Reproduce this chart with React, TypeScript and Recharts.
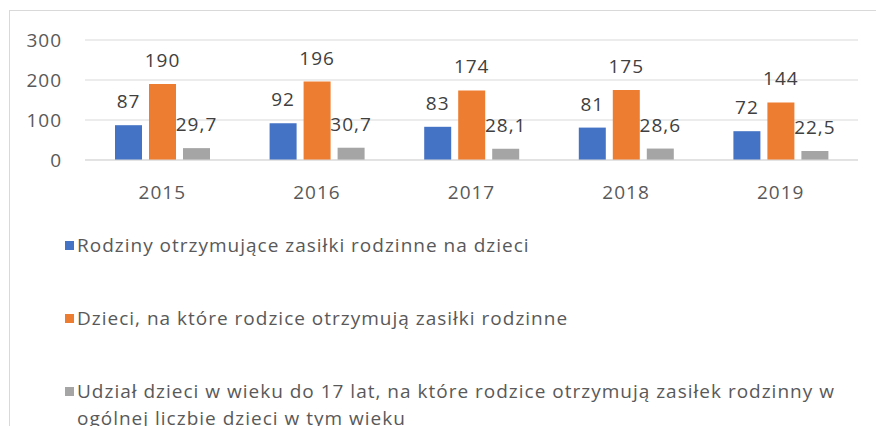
import { Bar, BarChart, CartesianGrid, LabelList, Legend, XAxis, YAxis } from 'recharts';

const years = ['2015', '2016', '2017', '2018', '2019'];
const families = [87, 92, 83, 81, 72];
const children = [190, 196, 174, 175, 144];
const share = [29.7, 30.7, 28.1, 28.6, 22.5];
const seriesNames = [
    'Rodziny otrzymujące zasiłki rodzinne na dzieci',
    'Dzieci, na które rodzice otrzymują zasiłki rodzinne',
    'Udział dzieci w wieku do 17 lat, na które rodzice otrzymują zasiłek rodzinny w ogólnej liczbie dzieci w tym wieku',
];
const colors = ['#4472C4', '#ED7D31', '#A5A5A5'];
const yTicks = [0, 100, 200, 300];

const data = years.map((year, i) => ({
    year,
    families: families[i],
    children: children[i],
    share: share[i],
}));

const FONT = '"Open Sans", sans-serif';
const fmt = (v: any) => String(v).replace('.', ',');

const LegendList = () => (
    <div style={{ fontFamily: FONT, fontSize: 19, color: '#595959', letterSpacing: 1 }}>
        {seriesNames.map((name, i) => (
            <div key={name} style={{ display: 'flex', alignItems: 'flex-start', marginBottom: 46, lineHeight: '27px' }}>
                <span style={{ width: 9, height: 9, background: colors[i], marginTop: 9, marginLeft: 65, marginRight: 3, flex: 'none' }} />
                <span style={{ width: 783 }}>{name}</span>
            </div>
        ))}
    </div>
);

const App = () => (
    <div style={{ position: 'absolute', left: 0, top: 0, width: 876, height: 426, overflow: 'hidden', background: '#fff' }}>
        <div style={{ position: 'absolute', left: 9, top: 10, width: 900, height: 500, border: '1px solid #D9D9D9' }} />
        <BarChart
            width={876}
            height={426}
            data={data}
            margin={{ top: 40, right: 18, left: 25, bottom: 236 }}
            barSize={27}
            barGap={7}
            style={{ fontFamily: FONT }}
        >
            <CartesianGrid horizontal vertical={false} stroke="#D9D9D9" />
            <XAxis
                dataKey="year"
                axisLine={{ stroke: '#D9D9D9' }}
                tickLine={false}
                tickMargin={20}
                tick={{ fill: '#595959', fontSize: 19, letterSpacing: 1 }}
            />
            <YAxis
                width={60}
                domain={[0, 300]}
                ticks={yTicks}
                axisLine={false}
                tickLine={false}
                tickMargin={17}
                tick={{ fill: '#595959', fontSize: 19, letterSpacing: 1 }}
            />
            <Legend
                verticalAlign="middle"
                align="center"
                content={() => <LegendList />}
                wrapperStyle={{ top: 232, left: 0, width: 876 }}
            />
            <Bar dataKey="families" name={seriesNames[0]} fill={colors[0]} isAnimationActive={false}>
                <LabelList dataKey="families" position="top" offset={17} fill="#404040" fontSize={19} letterSpacing={1} formatter={fmt} />
            </Bar>
            <Bar dataKey="children" name={seriesNames[1]} fill={colors[1]} isAnimationActive={false}>
                <LabelList dataKey="children" position="top" offset={17} fill="#404040" fontSize={19} letterSpacing={1} formatter={fmt} />
            </Bar>
            <Bar dataKey="share" name={seriesNames[2]} fill={colors[2]} isAnimationActive={false}>
                <LabelList dataKey="share" position="top" offset={17} fill="#404040" fontSize={19} letterSpacing={1} formatter={fmt} />
            </Bar>
        </BarChart>
    </div>
);

export default App;
